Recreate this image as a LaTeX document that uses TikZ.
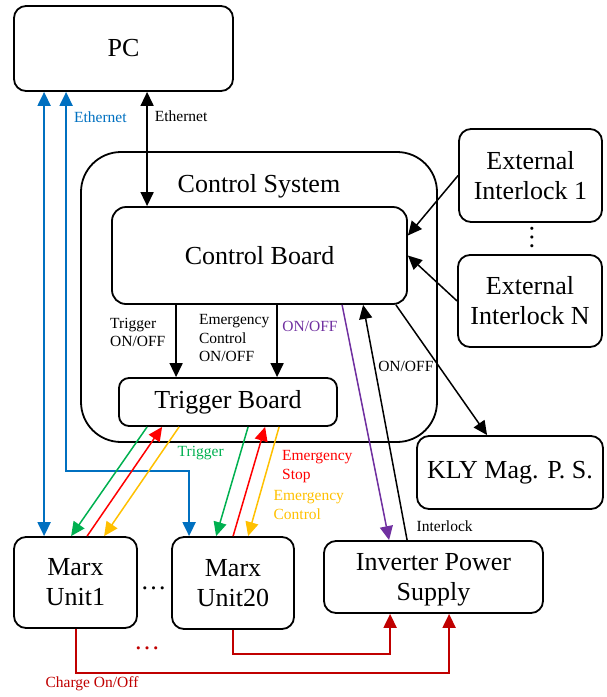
\documentclass[tikz,border=0pt]{standalone}
\usepackage{fontspec}
\setmainfont{Liberation Serif}
\usetikzlibrary{arrows.meta}
\definecolor{ethblue}{RGB}{0,112,192}
\definecolor{trggreen}{RGB}{0,176,80}
\definecolor{stopred}{RGB}{255,0,0}
\definecolor{emcorange}{RGB}{255,192,0}
\definecolor{onpurple}{RGB}{112,48,160}
\definecolor{chgred}{RGB}{192,0,0}

\begin{document}
\begin{tikzpicture}[x=1pt,y=-1pt,
    box/.style={draw,line width=1.8pt,rounded corners=12pt,align=center,inner sep=0pt,font=\fontsize{26}{30}\selectfont},
    lbl/.style={font=\fontsize{15.5}{18.5}\selectfont,align=left,inner sep=1pt},
    arr/.style={line width=1.5pt,-{Triangle[length=14pt,width=13pt]}},
    dbl/.style={line width=1.5pt,{Triangle[length=14pt,width=13pt]}-{Triangle[length=14pt,width=13pt]}}]
        \useasboundingbox (0,0) rectangle (606,697);
        \node [box,minimum width=219pt,minimum height=85pt] (pc) at (123.5,48.5) {PC};
        \node [box,rounded corners=40pt,minimum width=356pt,minimum height=290pt] (ctrlsys) at (259,297) {};
        \node [font=\fontsize{26}{30}\selectfont] (cstitle) at ([yshift=-35]ctrlsys.north) {Control System};
        \node [box,rounded corners=14pt,minimum width=295pt,minimum height=97pt] (ctrlboard) at (259.5,255.5) {Control Board};
        \node [box,rounded corners=10pt,minimum width=218pt,minimum height=48pt] (trigboard) at (228,402) {Trigger Board};
        \node [box,minimum width=143pt,minimum height=93pt] (ext1) at (530.5,175.5) {External\\Interlock 1};
        \node [box,minimum width=144pt,minimum height=92pt] (extn) at (530,301) {External\\Interlock N};
        \node [rotate=90,font=\fontsize{26}{30}\selectfont,inner sep=0pt] (extdots) at (532,237) {…};
        \node [box,minimum width=186pt,minimum height=73pt] (kly) at (510,472.5) {KLY Mag. P. S.};
        \node [box,text depth=0pt,minimum width=219pt,minimum height=72pt] (inv) at (433.5,577) {Inverter Power\\Supply};
        \node [box,minimum width=123pt,minimum height=91pt] (marx1) at (75.5,582.5) {Marx\\Unit1};
        \node [box,minimum width=122pt,minimum height=92pt] (marx20) at (233,583) {Marx\\Unit20};
        \node [font=\fontsize{26}{30}\selectfont,inner sep=0pt] (mdots) at (153.5,588) {…};
        \node [font=\fontsize{26}{30}\selectfont,inner sep=0pt,text=chgred] (cdots) at (147,648) {…};
        % ethernet
        \draw [dbl,ethblue,line width=2pt] ([xshift=31]pc.south west) -- ([xshift=31]marx1.north west);
        \draw [dbl,ethblue,line width=2pt] ([xshift=53]pc.south west) |- node[lbl,pos=0.033,right=6pt,text=ethblue] {Ethernet} ([xshift=18,yshift=65]marx20.north west) -- ([xshift=18]marx20.north west);
        \draw [dbl] ([xshift=134]pc.south west) -- node[lbl,pos=0.21,right=6pt] {Ethernet} ([xshift=36]ctrlboard.north west);
        % control board
        \draw [arr] ([xshift=65]ctrlboard.south west) -- node[lbl,pos=0.38,left=9pt] {Trigger\\ON/OFF} ([xshift=58]trigboard.north west);
        \draw [arr] ([xshift=166]ctrlboard.south west) -- node[lbl,pos=0.46,left=6pt] {Emergency\\Control\\ON/OFF} ([xshift=159]trigboard.north west);
        \draw [arr] (ext1.west) -- ([yshift=20]ctrlboard.east);
        \draw [arr] (extn.west) -- (ctrlboard.east);
        \draw [arr] ([xshift=-12]ctrlboard.south east) -- ([xshift=71]kly.north west);
        \draw [arr,onpurple] ([xshift=231]ctrlboard.south west) -- node[lbl,pos=0.09,left=7pt,text=onpurple] {ON/OFF} ([xshift=66]inv.north west);
        \draw [arr] ([xshift=84]inv.north west) -- node[lbl,pos=0.06,right=10.5pt] {Interlock} node[lbl,pos=0.74,right=2pt] {ON/OFF} ([xshift=252]ctrlboard.south west);
        % trigger board
        \draw [arr,trggreen] ([xshift=29]trigboard.south west) -- ([xshift=58]marx1.north west);
        \draw [arr,stopred] ([xshift=74]marx1.north west) -- ([xshift=44]trigboard.south west);
        \draw [arr,emcorange] ([xshift=61]trigboard.south west) -- ([xshift=91]marx1.north west);
        \draw [arr,trggreen] ([xshift=130]trigboard.south west) -- node[lbl,pos=0.24,left=15pt,text=trggreen] {Trigger} ([xshift=45]marx20.north west);
        \draw [arr,stopred] ([xshift=62]marx20.north west) -- node[lbl,pos=0.635,right=27pt,text=stopred] {Emergency\\Stop} ([xshift=147]trigboard.south west);
        \draw [arr,emcorange] ([xshift=161]trigboard.south west) -- node[lbl,pos=0.716,right=15pt,text=emcorange] {Emergency\\Control} ([xshift=77]marx20.north west);
        % charge
        \draw [arr,chgred,line width=2pt] (marx1.south) |- node[lbl,pos=0.5,below=2pt,xshift=16.5pt,text=chgred] {Charge On/Off} ([xshift=126,yshift=-59]inv.south west) -- ([xshift=126]inv.south west);
        \draw [arr,chgred,line width=2pt] (marx20.south) |- ([xshift=67,yshift=-40]inv.south west) -- ([xshift=67]inv.south west);
\end{tikzpicture}
\end{document}
